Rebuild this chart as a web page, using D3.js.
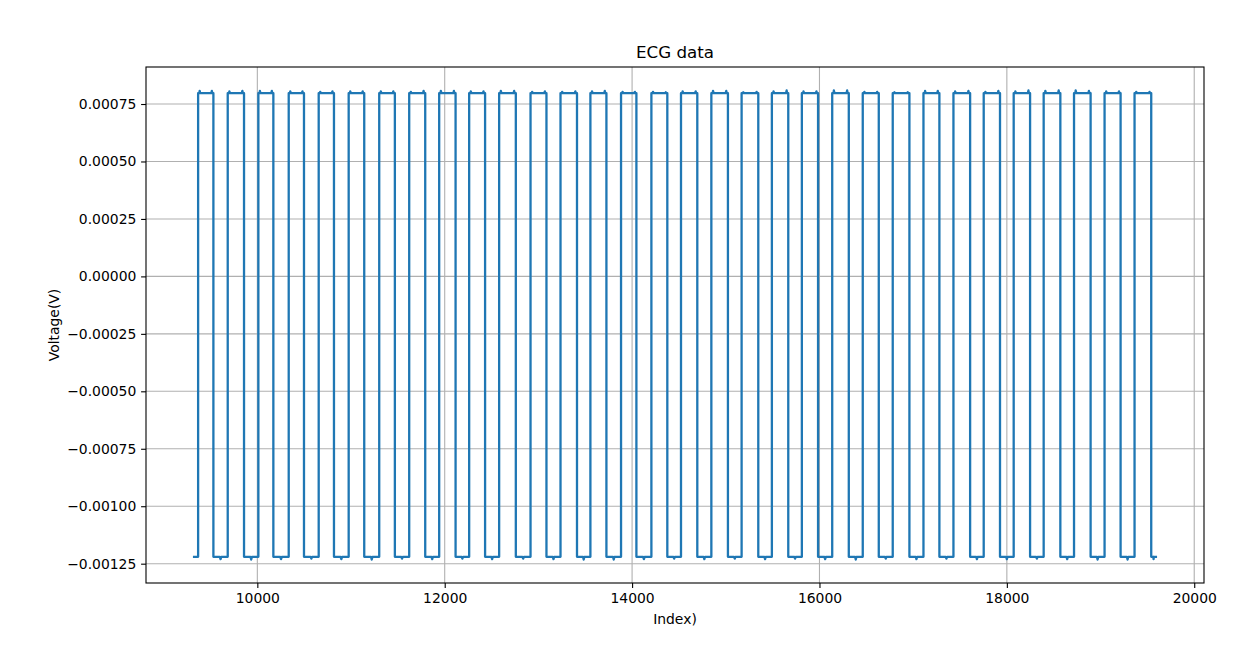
<!DOCTYPE html>
<html><head><meta charset="utf-8">
<script src="https://cdn.jsdelivr.net/npm/d3@7"></script>
<style>
body{margin:0;background:#fff;}
text{font-family:"DejaVu Sans",sans-serif;fill:#000;}
</style></head>
<body><svg id="c" width="1255" height="650"></svg>
<script>
const title = "ECG data";
const xLabel = "Index)";
const yLabel = "Voltage(V)";
const startIndex = 9325;
const endIndex = 19591;
const highLevel = 0.000797;
const lowLevel = -0.00122;
const riseIndex = [9368,9684,10011,10335,10655,10975,11301,11621,11941,12261,12581,12916,13236,13555,13882,14206,14522,14846,15169,15492,15812,16136,16462,16782,17110,17430,17753,18073,18393,18717,19043,19363];
const fallIndex = [9531,9858,10171,10498,10818,11141,11468,11792,12116,12431,12759,13086,13412,13726,14046,14376,14696,15023,15347,15667,15985,16313,16633,16960,17280,17608,17927,18248,18571,18894,19214,19541];
// small noise bumps on the high plateaus (start, end) and dips on the low plateaus
const highBumpStart = [0.000010,0.000008,0.000010,0.000008,0.000006,0.000008,0.000008,0.000006,0.000010,0.000008,0.000010,0.000006,0.000006,0.000008,0.000006,0.000006,0.000008,0.000010,0.000004,0.000008,0.000008,0.000012,0.000006,0.000004,0.000010,0.000008,0.000006,0.000008,0.000010,0.000012,0.000008,0.000006];
const highBumpEnd   = [0.000010,0.000010,0.000010,0.000008,0.000008,0.000008,0.000008,0.000010,0.000010,0.000008,0.000010,0.000008,0.000008,0.000010,0.000006,0.000004,0.000008,0.000010,0.000006,0.000012,0.000008,0.000012,0.000006,0.000004,0.000010,0.000010,0.000010,0.000012,0.000012,0.000010,0.000008,0.000006];
const lowDip = [0.000010,0.000012,0.000010,0.000008,0.000010,0.000012,0.000008,0.000010,0.000008,0.000010,0.000008,0.000010,0.000012,0.000012,0.000010,0.000008,0.000010,0.000008,0.000010,0.000008,0.000010,0.000012,0.000008,0.000010,0.000008,0.000010,0.000010,0.000008,0.000010,0.000012,0.000012,0.000010];
const xTicks = [10000,12000,14000,16000,18000,20000];
const yTicks = [-0.00125,-0.001,-0.00075,-0.0005,-0.00025,0,0.00025,0.0005,0.00075];

// build point list
const pts = [[startIndex, lowLevel]];
riseIndex.forEach((r,i)=>{
  const f = fallIndex[i], w = f - r;
  pts.push([r, lowLevel],[r, highLevel],
    [r+w*0.08, highLevel],[r+w*0.10, highLevel+highBumpStart[i]],[r+w*0.14, highLevel],
    [r+w*0.86, highLevel],[r+w*0.90, highLevel+highBumpEnd[i]],[r+w*0.93, highLevel],
    [f, highLevel],[f, lowLevel]);
  const nr = i+1 < riseIndex.length ? riseIndex[i+1] : endIndex;
  const lw = nr - f;
  pts.push([f+lw*0.45, lowLevel],[f+lw*0.5, lowLevel-lowDip[i]],[f+lw*0.55, lowLevel]);
});
pts.push([endIndex, lowLevel]);

const L=146, R=1204, T=67, B=583;
const xr = endIndex-startIndex, xm = xr*0.05;
const x = d3.scaleLinear().domain([startIndex-xm, endIndex+xm]).range([L,R]);
const [ymin, ymax] = d3.extent(pts, d=>d[1]);
const ym = (ymax-ymin)*0.05;
const y = d3.scaleLinear().domain([ymin-ym, ymax+ym]).range([B,T]);

const svg = d3.select("#c");
// grid
svg.append("g").selectAll("line").data(xTicks).join("line")
  .attr("x1",d=>x(d)).attr("x2",d=>x(d)).attr("y1",T).attr("y2",B)
  .attr("stroke","#b0b0b0").attr("stroke-width",1.1);
svg.append("g").selectAll("line").data(yTicks).join("line")
  .attr("x1",L).attr("x2",R).attr("y1",d=>y(d)).attr("y2",d=>y(d))
  .attr("stroke","#b0b0b0").attr("stroke-width",1.1);

// line
svg.append("path").datum(pts)
  .attr("d", d3.line().x(d=>x(d[0])).y(d=>y(d[1])))
  .attr("fill","none").attr("stroke","#1f77b4").attr("stroke-width",2.3)
  .attr("stroke-linejoin","round").attr("stroke-linecap","square");

// axes
const fmtY = d => (d<0?"\u2212":"") + Math.abs(d).toFixed(5);
const xa = svg.append("g").attr("transform",`translate(0,${B})`)
  .call(d3.axisBottom(x).tickValues(xTicks).tickSize(4.9).tickPadding(4.8).tickFormat(d3.format("d")));
const ya = svg.append("g").attr("transform",`translate(${L},0)`)
  .call(d3.axisLeft(y).tickValues(yTicks).tickSize(4.9).tickPadding(4.8).tickFormat(fmtY));
[xa,ya].forEach(a=>{
  a.select(".domain").remove();
  a.selectAll("line").attr("stroke","#000").attr("stroke-width",1.1);
  a.selectAll("text").attr("font-size","13.9px").attr("font-family","DejaVu Sans").attr("fill","#000");
});
svg.append("rect").attr("x",L).attr("y",T).attr("width",R-L).attr("height",B-T)
  .attr("fill","none").attr("stroke","#000").attr("stroke-width",1.1);

svg.append("text").attr("x",(L+R)/2).attr("y",T-9).attr("text-anchor","middle")
  .attr("font-size","16.7px").text(title);
svg.append("text").attr("x",(L+R)/2).attr("y",624).attr("text-anchor","middle")
  .attr("font-size","13.9px").text(xLabel);
svg.append("text").attr("transform",`translate(59,${(T+B)/2}) rotate(-90)`).attr("text-anchor","middle")
  .attr("font-size","13.9px").text(yLabel);
</script></body></html>
